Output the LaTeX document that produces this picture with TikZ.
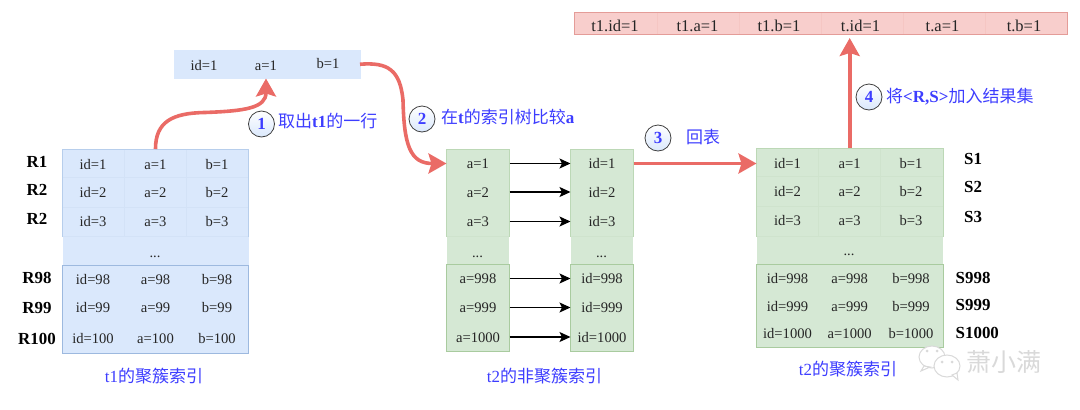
\documentclass[tikz,border=0pt]{standalone}
\usepackage{fontspec}
\setmainfont{Liberation Serif}
\newfontfamily\cjk{Noto Sans CJK SC}
\usetikzlibrary{arrows.meta,calc}
\definecolor{bfill}{HTML}{DAE8FC}\definecolor{bline}{HTML}{9DB9DF}\definecolor{bedge}{HTML}{B7CEEC}\definecolor{bfaint}{HTML}{D3E2F7}
\definecolor{gfill}{HTML}{D5E8D4}\definecolor{gline}{HTML}{A9CB9F}\definecolor{gedge}{HTML}{BCD8B6}\definecolor{gfaint}{HTML}{CFE3CD}
\definecolor{rfill}{HTML}{F8CECC}\definecolor{rline}{HTML}{E49C98}\definecolor{rfaint}{HTML}{F5C6C3}
\definecolor{redarrow}{HTML}{EA6B66}\definecolor{lblue}{HTML}{3D3DFF}\definecolor{wm}{HTML}{D9D9D9}
\tikzset{
  x=1pt,y=-1pt,
  panel/.style={inner sep=0pt,outer sep=0pt,rectangle},
  txt/.style={inner sep=0pt,outer sep=0pt,font=\fontsize{14.6}{16}\selectfont,text height=10pt,text depth=0pt,text=black!85},
  restxt/.style={txt,font=\fontsize{16.5}{18}\selectfont,text height=11pt},
  cell/.style={txt,minimum width=#1,anchor=center},
  rowlab/.style={inner sep=0pt,font=\fontsize{16.9}{18}\selectfont\bfseries,text height=11pt,text depth=0pt,text=black},
  captext/.style={inner sep=0pt,font=\fontsize{17}{19}\selectfont,text=lblue,text height=12pt,text depth=2pt},
  step label/.style={inner sep=0pt,anchor=west,font=\fontsize{17}{19}\selectfont,text=lblue,text height=12pt,text depth=2pt},
  badge/.style={circle,draw=black!75,line width=0.8pt,minimum size=26pt,inner sep=0pt,shading=axis,top color=white,bottom color=bfill,text=lblue,font=\fontsize{17}{19}\selectfont\bfseries},
  redline/.style={draw=redarrow,line width=3.6pt,-{Stealth[inset=3pt,length=18pt,width=20pt]}},
  blackline/.style={draw=black,line width=1.2pt,-{Stealth[inset=2.5pt,length=11pt,width=10pt]}},
}
% name, x1, y1, x2, y2, fill, line
\newcommand{\panelbox}[7]{%
  \pgfmathsetmacro{\pw}{#4-#2}\pgfmathsetmacro{\ph}{#5-#3}%
  \pgfmathsetmacro{\pcx}{(#2+#4)/2}\pgfmathsetmacro{\pcy}{(#3+#5)/2}%
  \node[panel,fill=#6,draw=#7,line width=1pt,minimum width=\pw pt,minimum height=\ph pt] (#1) at (\pcx,\pcy) {};}
\begin{document}
\begin{tikzpicture}
\useasboundingbox (0,0) rectangle (1080,410);

% ---------- t1 clustered index
\fill[bfill] (63,236) rectangle (249,265);
\panelbox{tatop}{62.5}{149}{248.5}{236}{bfill}{bedge}
\panelbox{tabot}{62.5}{265}{248.5}{353}{bfill}{bline}
\draw[bfaint] (124.5,149.5) -- (124.5,236) (186.5,149.5) -- (186.5,236) (63,177.5) -- (248,177.5) (63,207) -- (248,207) (63,236) -- (248,236);
\foreach \n/\cx/\p in {id/93/id,a/155.5/a,b/217/b}{
  \foreach \k/\yy/\v in {1/164/1,2/192/2,3/221/3,98/279/98,99/307.5/99,100/338/100}{
    \node[cell=62pt] (ta\n\k) at (\cx,\yy) {\p=\v};
  }
}
\node[txt] (tadots) at (155,252) {...};
\node[rowlab] (r1) at (37,162) {R1};
\node[rowlab] (r2) at (37,190) {R2};
\node[rowlab] (r3) at (37,219) {R2};
\node[rowlab] (r98) at (37,278) {R98};
\node[rowlab] (r99) at (37,307.5) {R99};
\node[rowlab] (r100) at (37,339) {R100};
\node[captext] (capa) at (154,377) {t1{\cjk 的聚簇索引}};

% ---------- fetched row
\panelbox{rowbox}{174}{50}{360}{78.5}{bfill}{bfill}
\node[cell=62pt] (rowid) at (204,65) {id=1};
\node[cell=62pt] (rowa) at (266,65) {a=1};
\node[cell=62pt] (rowb) at (328,63) {b=1};

% ---------- t2 secondary index
\foreach \nm/\xa/\xb in {nb/446.5/509.5,nc/570.5/633.5}{
  \fill[gfill] (\xa+0.5,236) rectangle (\xb-0.5,264);
  \panelbox{\nm top}{\xa}{149}{\xb}{236}{gfill}{gedge}
  \panelbox{\nm bot}{\xa}{264}{\xb}{351}{gfill}{gline}
  \draw[gfaint] (\xa+0.5,236) -- (\xb-0.5,236);
}
\foreach \k/\yy/\v in {1/163.5/1,2/192/2,3/221.5/3,98/278.5/998,99/307.5/999,100/337/1000}{
  \node[cell=63pt] (nb\k) at (478,\yy) {a=\v};
  \node[cell=63pt] (nc\k) at (602,\yy) {id=\v};
  \draw[blackline] (nb\k.east) -- (nc\k.west);
}
\node[txt] (nbdots) at (477.5,252) {...};
\node[txt] (ncdots) at (601.5,252) {...};
\node[captext] (capb) at (544.5,377) {t2{\cjk 的非聚簇索引}};

% ---------- t2 clustered index
\fill[gfill] (757,236) rectangle (943,264);
\panelbox{tbtop}{756.5}{148}{943}{236}{gfill}{gedge}
\panelbox{tbbot}{756.5}{264}{943}{347.5}{gfill}{gline}
\draw[gfaint] (818.5,148.5) -- (818.5,236) (880.5,148.5) -- (880.5,236) (757,176.5) -- (942.5,176.5) (757,206) -- (942.5,206) (757,236) -- (942.5,236);
\foreach \n/\cx/\p in {id/787.5/id,a/849.7/a,b/911/b}{
  \foreach \k/\yy/\v in {1/163/1,2/191/2,3/220/3,98/278/998,99/306/999,100/333/1000}{
    \node[cell=62pt] (tb\n\k) at (\cx,\yy) {\p=\v};
  }
}
\node[txt] (tbdots) at (849,250) {...};
\node[rowlab,anchor=west] (s1) at (964,159) {S1};
\node[rowlab,anchor=west] (s2) at (964,187) {S2};
\node[rowlab,anchor=west] (s3) at (964,217) {S3};
\node[rowlab,anchor=west] (s998) at (955.5,278) {S998};
\node[rowlab,anchor=west] (s999) at (955.5,305) {S999};
\node[rowlab,anchor=west] (s1000) at (955.5,333) {S1000};
\node[captext] (capc) at (848,370) {t2{\cjk 的聚簇索引}};

% ---------- result row
\panelbox{resbox}{574.5}{12.5}{1067.5}{34.5}{rfill}{rline}
\draw[rfaint] (657,13) -- (657,34) (739,13) -- (739,34) (821,13) -- (821,34) (903,13) -- (903,34) (985,13) -- (985,34);
\node[restxt] (res1) at (615,26) {t1.id=1};
\node[restxt] (res2) at (697.5,26) {t1.a=1};
\node[restxt] (res3) at (779,26) {t1.b=1};
\node[restxt] (res4) at (860.5,26) {t.id=1};
\node[restxt] (res5) at (942.5,26) {t.a=1};
\node[restxt] (res6) at (1024,26) {t.b=1};

% ---------- red arrows
\draw[redline] (tatop.north) .. controls (155.5,122) and (172,113) .. (205,112.5) .. controls (245,111) and (266,108) .. (rowa.center |- rowbox.south);
\draw[redline] (rowbox.east) .. controls (388,62) and (400,70) .. (403,100) .. controls (404,145) and (410,163.5) .. (nb1.west);
\draw[redline] (nc1.east) -- (nc1.east -| tbtop.west);
\draw[redline,shorten >=3.5pt] (tbtop.north -| tba1) -- (tba1 |- resbox.south);

% ---------- step badges and labels
\node[badge] (b1) at (261.5,124) {1};
\node[step label] (l1) at (278,122) {{\cjk 取出}{\bfseries t1}{\cjk 的一行}};
\node[badge] (b2) at (422,119) {2};
\node[step label] (l2) at (441,118) {{\cjk 在}{\bfseries t}{\cjk 的索引树比较}{\bfseries a}};
\node[badge] (b3) at (658,138) {3};
\node[step label] (l3) at (686,138) {{\cjk 回表}};
\node[badge] (b4) at (869,97) {4};
\node[step label] (l4) at (886,97) {{\cjk 将}{\bfseries <R,S>}{\cjk 加入结果集}};

% ---------- watermark
\begin{scope}[draw=wm,line width=1pt,fill=white]
  \filldraw (932,357) ellipse [x radius=13,y radius=11];
  \filldraw (924,366) -- (921,371) -- (930,367) -- cycle;
  \filldraw (947,366) ellipse [x radius=13,y radius=11];
  \filldraw (952,375) -- (958,380) -- (957,373) -- cycle;
  \fill[wm] (927,351) circle (1.5) (937,351) circle (1.5) (942,362) circle (1.5) (952,362) circle (1.5);
\end{scope}
\node[inner sep=0pt,text=wm,font=\fontsize{25}{27}\selectfont\cjk] (wmtext) at (1004,362) {萧小满};
\end{tikzpicture}
\end{document}
